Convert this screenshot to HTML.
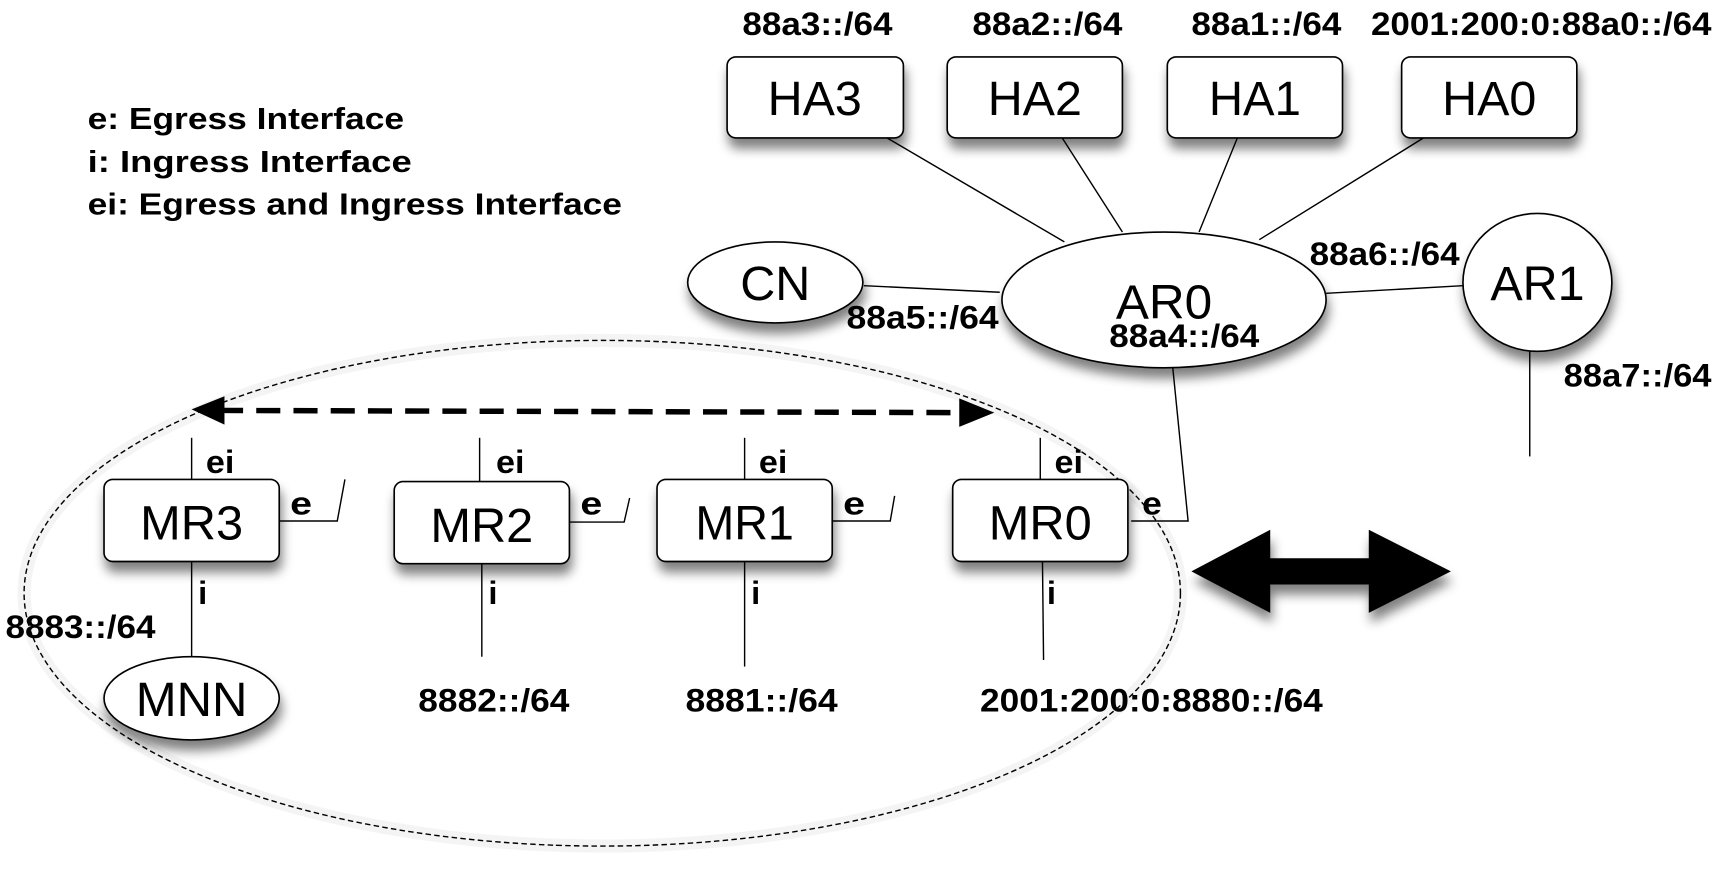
<!DOCTYPE html>
<html><head><meta charset="utf-8"><style>
html,body{margin:0;padding:0;background:#fff;}
svg{display:block;}
text{font-family:"Liberation Sans",sans-serif;fill:#000;}
.b{font-weight:bold;font-size:30px;}
.l{font-weight:bold;font-size:28px;}
.n{font-size:44px;}
</style></head><body>
<svg width="1717" height="880" viewBox="0 0 1568 804" preserveAspectRatio="none" xmlns="http://www.w3.org/2000/svg">
<defs>
<filter id="sh" x="-20%" y="-20%" width="150%" height="160%">
<feGaussianBlur in="SourceAlpha" stdDeviation="5"/>
<feOffset dx="2" dy="9" result="o"/>
<feComponentTransfer><feFuncA type="linear" slope="0.5"/></feComponentTransfer>
<feMerge><feMergeNode/><feMergeNode in="SourceGraphic"/></feMerge>
</filter>
</defs>
<ellipse cx="550" cy="542" rx="528" ry="231" fill="none" stroke="#f4f4f4" stroke-width="12"/>
<ellipse cx="550" cy="542" rx="528" ry="231" fill="none" stroke="#000" stroke-width="1.3" stroke-dasharray="5,3"/>

<text class="l" x="80" y="118" textLength="289" lengthAdjust="spacingAndGlyphs">e: Egress Interface</text>
<text class="l" x="80" y="157" textLength="296" lengthAdjust="spacingAndGlyphs">i:  Ingress Interface</text>
<text class="l" x="80" y="196" textLength="488" lengthAdjust="spacingAndGlyphs">ei: Egress and Ingress Interface</text>

<text class="b" x="678" y="32" textLength="137" lengthAdjust="spacingAndGlyphs">88a3::/64</text>
<text class="b" x="888" y="32" textLength="137" lengthAdjust="spacingAndGlyphs">88a2::/64</text>
<text class="b" x="1088" y="32" textLength="137" lengthAdjust="spacingAndGlyphs">88a1::/64</text>
<text class="b" x="1252" y="32" textLength="311" lengthAdjust="spacingAndGlyphs">2001:200:0:88a0::/64</text>

<g stroke="#000" stroke-width="1.3" fill="none">
<line x1="810" y1="126" x2="972" y2="221"/>
<line x1="970" y1="126" x2="1025" y2="212"/>
<line x1="1130" y1="126" x2="1095" y2="212"/>
<line x1="1300" y1="126" x2="1150" y2="219"/>
<line x1="789" y1="261" x2="913" y2="267"/>
<line x1="1211" y1="268" x2="1336" y2="261"/>
<line x1="1397" y1="321" x2="1397" y2="417"/>
<polyline points="1071,336 1085,476 1033,476"/>
<line x1="175" y1="400" x2="175" y2="438"/>
<line x1="438" y1="400" x2="438" y2="440"/>
<line x1="680" y1="400" x2="680" y2="438"/>
<line x1="950" y1="400" x2="950" y2="438"/>
<line x1="175" y1="513" x2="175" y2="601"/>
<line x1="440" y1="513" x2="440" y2="600"/>
<line x1="680" y1="513" x2="680" y2="609"/>
<line x1="952" y1="513" x2="953" y2="603"/>
<polyline points="255,476 308,476 315,438"/>
<polyline points="520,477 570,477 575,455"/>
<polyline points="760,476 813,476 817,453"/>
</g>

<g filter="url(#sh)" fill="#fff" stroke="#000" stroke-width="1.5">
<rect x="664" y="52" width="161" height="74" rx="8"/>
<rect x="865" y="52" width="160" height="74" rx="8"/>
<rect x="1066" y="52" width="160" height="74" rx="8"/>
<rect x="1280" y="52" width="160" height="74" rx="8"/>
<ellipse cx="708" cy="258" rx="80" ry="37"/>
<ellipse cx="1063" cy="274" rx="148" ry="62"/>
<ellipse cx="1404" cy="258" rx="68" ry="63"/>
<rect x="95" y="438" width="160" height="75" rx="8"/>
<rect x="360" y="440" width="160" height="75" rx="8"/>
<rect x="600" y="438" width="160" height="75" rx="8"/>
<rect x="870" y="438" width="160" height="75" rx="8"/>
<ellipse cx="175" cy="638" rx="80" ry="38"/>
</g>

<g text-anchor="middle">
<text class="n" x="744" y="105" textLength="86" lengthAdjust="spacingAndGlyphs">HA3</text>
<text class="n" x="945" y="105" textLength="86" lengthAdjust="spacingAndGlyphs">HA2</text>
<text class="n" x="1146" y="105" textLength="84" lengthAdjust="spacingAndGlyphs">HA1</text>
<text class="n" x="1360" y="105" textLength="86" lengthAdjust="spacingAndGlyphs">HA0</text>
<text class="n" x="708" y="274" textLength="64" lengthAdjust="spacingAndGlyphs">CN</text>
<text class="n" x="1063" y="291" textLength="88" lengthAdjust="spacingAndGlyphs">AR0</text>
<text class="n" x="1404" y="274" textLength="86" lengthAdjust="spacingAndGlyphs">AR1</text>
<text class="n" x="175" y="493" textLength="94" lengthAdjust="spacingAndGlyphs">MR3</text>
<text class="n" x="440" y="495" textLength="94" lengthAdjust="spacingAndGlyphs">MR2</text>
<text class="n" x="680" y="493" textLength="90" lengthAdjust="spacingAndGlyphs">MR1</text>
<text class="n" x="950" y="493" textLength="94" lengthAdjust="spacingAndGlyphs">MR0</text>
<text class="n" x="175" y="654" textLength="102" lengthAdjust="spacingAndGlyphs">MNN</text>
</g>

<text class="b" x="773" y="300" textLength="139" lengthAdjust="spacingAndGlyphs">88a5::/64</text>
<text class="b" x="1013" y="317" textLength="137" lengthAdjust="spacingAndGlyphs">88a4::/64</text>
<text class="b" x="1196" y="242" textLength="137" lengthAdjust="spacingAndGlyphs">88a6::/64</text>
<text class="b" x="1428" y="353" textLength="135" lengthAdjust="spacingAndGlyphs">88a7::/64</text>

<text class="b" x="188" y="432" textLength="26" lengthAdjust="spacingAndGlyphs">ei</text>
<text class="b" x="453" y="432" textLength="26" lengthAdjust="spacingAndGlyphs">ei</text>
<text class="b" x="693" y="432" textLength="26" lengthAdjust="spacingAndGlyphs">ei</text>
<text class="b" x="963" y="432" textLength="26" lengthAdjust="spacingAndGlyphs">ei</text>
<text class="b" x="265" y="470" textLength="20" lengthAdjust="spacingAndGlyphs">e</text>
<text class="b" x="530" y="470" textLength="20" lengthAdjust="spacingAndGlyphs">e</text>
<text class="b" x="770" y="470" textLength="20" lengthAdjust="spacingAndGlyphs">e</text>
<text class="b" x="1043" y="470" textLength="18" lengthAdjust="spacingAndGlyphs">e</text>
<text class="b" x="181" y="552">i</text>
<text class="b" x="446" y="552">i</text>
<text class="b" x="686" y="552">i</text>
<text class="b" x="956" y="552">i</text>

<text class="b" x="5" y="583" textLength="137" lengthAdjust="spacingAndGlyphs">8883::/64</text>
<text class="b" x="382" y="650" textLength="138" lengthAdjust="spacingAndGlyphs">8882::/64</text>
<text class="b" x="626" y="650" textLength="139" lengthAdjust="spacingAndGlyphs">8881::/64</text>
<text class="b" x="895" y="650" textLength="313" lengthAdjust="spacingAndGlyphs">2001:200:0:8880::/64</text>

<line x1="200" y1="375" x2="880" y2="377" stroke="#000" stroke-width="5" stroke-dasharray="22,12"/>
<polygon points="175,374 205,362 205,388" fill="#000"/>
<polygon points="908,377 876,364 876,390" fill="#000"/>

<polygon filter="url(#sh)" fill="#000" points="1088,522 1160,484 1160,510 1250,510 1250,484 1325,522 1250,560 1250,534 1160,534 1160,560"/>
</svg>
</body></html>
